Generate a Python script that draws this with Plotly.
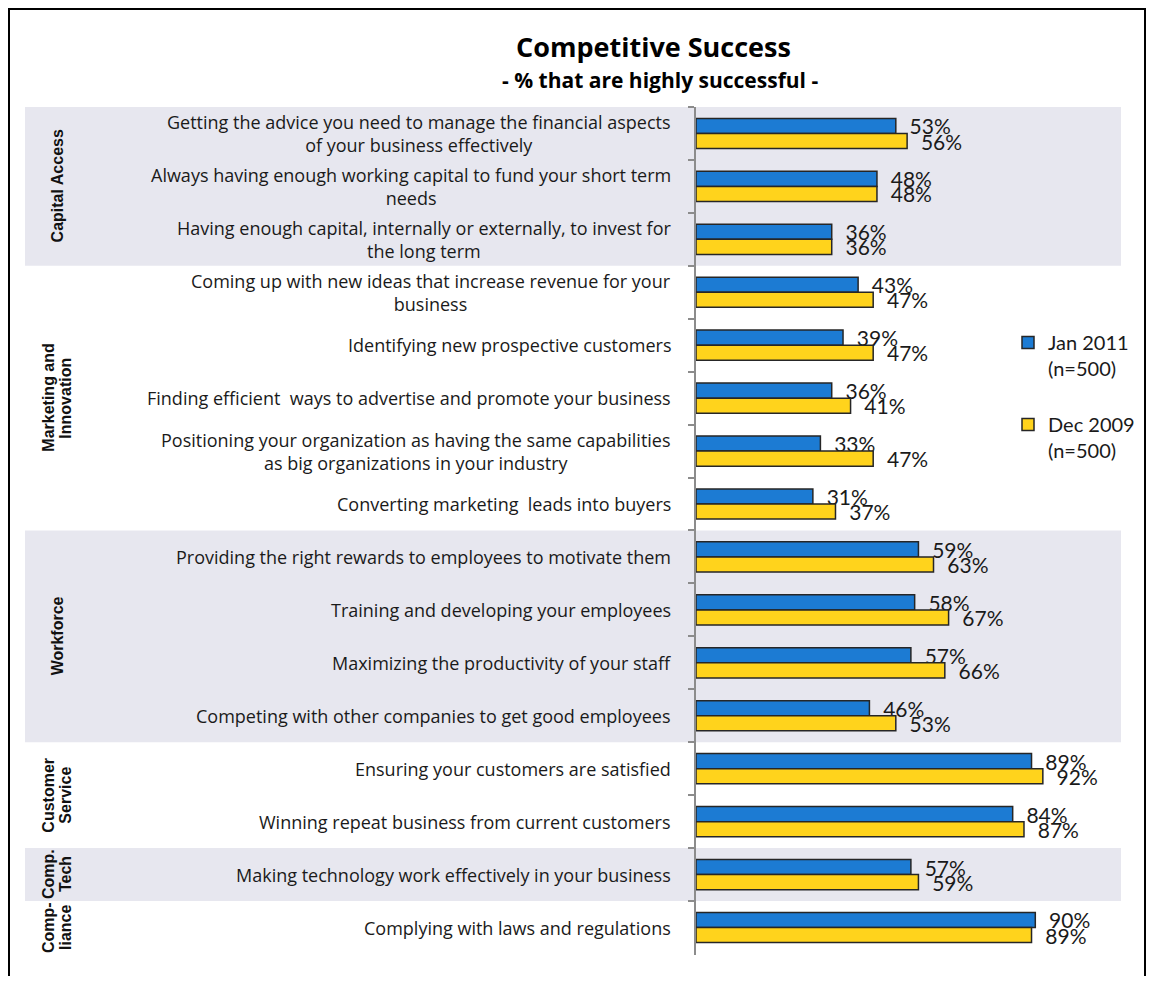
import plotly.graph_objects as go

# the page body has an 8px margin; keep the figure inside the window and map reference pixels
OFF = 8
W, H = 1154 - 2 * OFF, 984 - 2 * OFF

categories = [
    "Getting the advice you need to manage the financial aspects<br>of your business effectively",
    "Always having enough working capital to fund your short term<br>needs",
    "Having enough capital, internally or externally, to invest for<br>the long term",
    "Coming up with new ideas that increase revenue for your<br>business",
    "Identifying new prospective customers",
    "Finding efficient  ways to advertise and promote your business",
    "Positioning your organization as having the same capabilities<br>as big organizations in your industry",
    "Converting marketing  leads into buyers",
    "Providing the right rewards to employees to motivate them",
    "Training and developing your employees",
    "Maximizing the productivity of your staff",
    "Competing with other companies to get good employees",
    "Ensuring your customers are satisfied",
    "Winning repeat business from current customers",
    "Making technology work effectively in your business",
    "Complying with laws and regulations",
]
jan_2011 = [53, 48, 36, 43, 39, 36, 33, 31, 59, 58, 57, 46, 89, 84, 57, 90]
dec_2009 = [56, 48, 36, 47, 47, 41, 47, 37, 63, 67, 66, 53, 92, 87, 59, 89]

series_names = ["Jan 2011<br>(n=500)", "Dec 2009<br>(n=500)"]

group_lines = [
    ["Capital Access"],
    ["Marketing and", "Innovation"],
    ["Workforce"],
    ["Customer", "Service"],
    ["Comp.", "Tech"],
    ["Comp-", "liance"],
]
group_sizes = [3, 5, 4, 2, 1, 1]
shaded_groups = [True, False, True, False, True, False]

title_text = "Competitive Success"
subtitle_text = "- % that are highly successful -"

# ---- layout geometry (reference pixels) ----
PLOT_L, PLOT_R = 696, 1121
PLOT_T, PLOT_B = 107, 955
px = lambda x: (x - OFF) / W
py = lambda y: 1 - (y - OFF) / H

BLUE = "#1C7BD3"
YELLOW = "#FFD31C"
EDGE = "#262626"
FONT = "Lato"
LABEL_FONT = "Open Sans"

fig = go.Figure()
for name, vals, color in [(series_names[0], jan_2011, BLUE), (series_names[1], dec_2009, YELLOW)]:
    fig.add_trace(go.Bar(
        y=categories, x=vals, orientation="h", name=name, legendgroup=name,
        marker=dict(color=color, line=dict(color=EDGE, width=1.5)),
        texttemplate="\u00a0\u00a0%{x}%", textposition="outside",
        textfont=dict(family=FONT, size=21, color="#1a1a1a"),
        constraintext="none", cliponaxis=False,
    ))

shapes = []
annotations = []

# group bands and labels
start = 0
for lines, size, shaded in zip(group_lines, group_sizes, shaded_groups):
    y0, y1 = start - 0.5, start + size - 0.5
    if shaded:
        shapes.append(dict(type="rect", xref="paper", yref="y", x0=px(25), x1=px(PLOT_R),
                           y0=y0, y1=y1, fillcolor="#E7E7EF", line=dict(width=0), layer="below"))
    ymid = (y0 + y1) / 2
    n = len(lines)
    for i, ln in enumerate(lines):
        xc = 57 + (i - (n - 1) / 2) * 17
        annotations.append(dict(text=f"<b>{ln}</b>", xref="paper", yref="y", x=px(xc), y=ymid,
                                xanchor="center", yanchor="middle", textangle=-90, showarrow=False,
                                font=dict(family="Liberation Sans", size=16, color="#111")))
    start += size

# category labels (centered multi-line, right aligned to axis)
for c in categories:
    annotations.append(dict(text=c, xref="paper", yref="y", x=px(673), y=c, xanchor="right",
                            yanchor="middle", align="center", showarrow=False,
                            font=dict(family=LABEL_FONT, size=18, color="#1a1a1a")))

# titles
annotations.append(dict(text=f"<b>{title_text}</b>", xref="paper", yref="paper", x=px(653), y=py(46),
                        xanchor="center", yanchor="middle", showarrow=False,
                        font=dict(family=LABEL_FONT, size=27, color="black")))
annotations.append(dict(text=f"<b>{subtitle_text}</b>", xref="paper", yref="paper", x=px(660), y=py(80),
                        xanchor="center", yanchor="middle", showarrow=False,
                        font=dict(family=LABEL_FONT, size=21, color="black")))

# outer frame (kept inside the figure area)
shapes.append(dict(type="rect", xref="paper", yref="paper", x0=px(OFF + 1), x1=px(OFF + W - 1),
                   y0=py(1000), y1=py(OFF + 1),
                   line=dict(color="black", width=2), fillcolor="rgba(0,0,0,0)", layer="above"))

x_max = (PLOT_R - PLOT_L) / 3.77

fig.update_layout(
    width=W, height=H,
    margin=dict(l=0, r=0, t=0, b=0),
    paper_bgcolor="white", plot_bgcolor="rgba(0,0,0,0)",
    barmode="group", bargap=0.43, bargroupgap=0,
    xaxis=dict(domain=[px(PLOT_L), px(PLOT_R)], range=[0, x_max], visible=False, automargin=False),
    yaxis=dict(domain=[py(PLOT_B), py(PLOT_T)], autorange="reversed", type="category",
               showticklabels=False, showline=True, linecolor="#8c8c8c", linewidth=2,
               ticks="outside", tickson="boundaries", ticklen=6, tickcolor="#8c8c8c", tickwidth=2,
               showgrid=False, zeroline=False, automargin=False),
    legend=dict(x=px(1008), y=py(323), xanchor="left", yanchor="top", traceorder="grouped",
                valign="top", tracegroupgap=27, bgcolor="rgba(0,0,0,0)",
                font=dict(family=FONT, size=20, color="#1a1a1a")),
    shapes=shapes, annotations=annotations,
    font=dict(family=FONT),
)

fig.write_html("out.html")
